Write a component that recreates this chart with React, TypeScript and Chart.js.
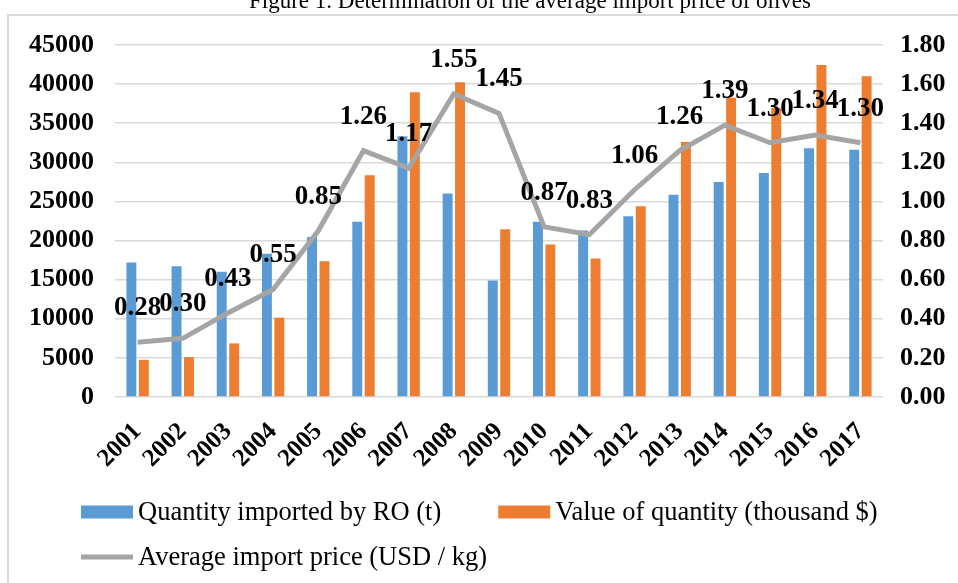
import React, { useEffect, useRef } from 'react';
import { Chart, registerables } from 'chart.js';

Chart.register(...registerables);

const years = ['2001', '2002', '2003', '2004', '2005', '2006', '2007', '2008', '2009', '2010', '2011', '2012', '2013', '2014', '2015', '2016', '2017'];
const quantity = [17200, 16700, 16000, 18300, 20450, 22400, 33350, 26000, 14900, 22400, 21300, 23100, 25850, 27500, 28650, 31800, 31600];
const valueThousand = [4750, 5100, 6850, 10150, 17350, 28350, 38950, 40250, 21450, 19500, 17700, 24400, 32600, 38250, 36950, 42450, 41000];
const avgPrice = [0.28, 0.3, 0.43, 0.55, 0.85, 1.26, 1.17, 1.55, 1.45, 0.87, 0.83, 1.06, 1.26, 1.39, 1.3, 1.34, 1.3];

const seriesLabels = ['Quantity imported by RO (t)', 'Value of quantity (thousand $)', 'Average import price (USD / kg)'];
const titleText = 'Figure 1. Determination of the average import price of olives';

const SERIF = "'Liberation Serif', 'Times New Roman', serif";
const BLUE = '#5b9bd5';
const ORANGE = '#ed7d31';
const GRAY = '#a5a5a5';
const GRID = '#d9d9d9';

const framePlugin = {
  id: 'framePlugin',
  beforeDraw(chart: any) {
    const ctx = chart.ctx;
    ctx.save();
    ctx.fillStyle = '#ffffff';
    ctx.fillRect(0, 0, chart.width, chart.height);
    ctx.strokeStyle = GRID;
    ctx.lineWidth = 2;
    ctx.strokeRect(8, 15, chart.width + 20, chart.height + 20);
    ctx.fillStyle = '#000';
    ctx.font = `23px ${SERIF}`;
    ctx.textAlign = 'center';
    ctx.textBaseline = 'alphabetic';
    ctx.fillText(titleText, 530, 8);
    ctx.restore();
  },
};

const pointLabelPlugin = {
  id: 'pointLabelPlugin',
  afterDatasetsDraw(chart: any) {
    const ctx = chart.ctx;
    const meta = chart.getDatasetMeta(2);
    ctx.save();
    ctx.fillStyle = '#000';
    ctx.font = `bold 27px ${SERIF}`;
    ctx.textAlign = 'center';
    ctx.textBaseline = 'middle';
    meta.data.forEach((pt: any, i: number) => {
      ctx.fillText(avgPrice[i].toFixed(2), pt.x, pt.y - 34);
    });
    ctx.restore();
  },
};

const legendPlugin = {
  id: 'customLegend',
  afterDraw(chart: any) {
    const ctx = chart.ctx;
    const ds = chart.data.datasets;
    ctx.save();
    ctx.font = `26.5px ${SERIF}`;
    ctx.textBaseline = 'middle';
    ctx.textAlign = 'left';
    const rows = [[0, 1], [2]];
    const rowY = [512, 557];
    rows.forEach((row, r) => {
      let x = 81;
      const y = rowY[r];
      row.forEach((idx) => {
        const d = ds[idx];
        if (d.type === 'line') {
          ctx.strokeStyle = d.borderColor;
          ctx.lineWidth = 5;
          ctx.beginPath();
          ctx.moveTo(x, y);
          ctx.lineTo(x + 52, y);
          ctx.stroke();
        } else {
          ctx.fillStyle = d.backgroundColor;
          ctx.fillRect(x, y - 6.5, 52, 13);
        }
        ctx.fillStyle = '#000';
        ctx.fillText(d.label, x + 57, y + 1);
        x += 57 + ctx.measureText(d.label).width + 57;
      });
    });
    ctx.restore();
  },
};

export default function App() {
  const ref = useRef<HTMLCanvasElement>(null);
  useEffect(() => {
    if (!ref.current) return;
    const tickFont = { family: SERIF, size: 26, weight: 'bold' as const };
    const chart = new Chart(ref.current, {
      type: 'bar',
      data: {
        labels: years,
        datasets: [
          {
            type: 'bar',
            label: seriesLabels[0],
            data: quantity,
            backgroundColor: BLUE,
            yAxisID: 'y',
            order: 1,
            categoryPercentage: 0.55,
            barPercentage: 0.8,
          },
          {
            type: 'bar',
            label: seriesLabels[1],
            data: valueThousand,
            backgroundColor: ORANGE,
            yAxisID: 'y',
            order: 1,
            categoryPercentage: 0.55,
            barPercentage: 0.8,
          },
          {
            type: 'line',
            label: seriesLabels[2],
            data: avgPrice,
            borderColor: GRAY,
            backgroundColor: GRAY,
            borderWidth: 5,
            pointRadius: 0,
            tension: 0,
            yAxisID: 'y1',
            order: 0,
          } as any,
        ],
      },
      options: {
        responsive: false,
        animation: false,
        devicePixelRatio: 1,
        layout: { padding: { left: 28, right: 8, top: 45, bottom: 116 } },
        plugins: {
          legend: { display: false },
          tooltip: { enabled: false },
          title: { display: false },
        },
        scales: {
          x: {
            grid: { display: false },
            border: { display: false },
            ticks: {
              autoSkip: false,
              minRotation: 45,
              maxRotation: 45,
              font: { family: SERIF, size: 25, weight: 'bold' },
              color: '#000',
              padding: 12,
            },
            afterFit: (s: any) => {
              s.height = 70;
            },
          },
          y: {
            position: 'left',
            min: 0,
            max: 45000,
            ticks: {
              stepSize: 5000,
              callback: (v: any) => String(v),
              font: tickFont,
              color: '#000',
              padding: 21,
            },
            grid: { color: GRID, lineWidth: 1.5, drawTicks: false },
            border: { display: false },
            afterFit: (s: any) => {
              s.width = 87;
            },
          },
          y1: {
            position: 'right',
            min: 0,
            max: 1.8,
            ticks: {
              stepSize: 0.2,
              callback: (v: any) => Number(v).toFixed(2),
              font: tickFont,
              color: '#000',
              padding: 17,
            },
            grid: { drawOnChartArea: false, drawTicks: false },
            border: { display: false },
            afterFit: (s: any) => {
              s.width = 67;
            },
          },
        },
      } as any,
      plugins: [framePlugin, pointLabelPlugin, legendPlugin],
    });
    return () => chart.destroy();
  }, []);
  return (
    <div style={{ position: 'absolute', left: 0, top: 0, width: 958, height: 583, background: '#fff' }}>
      <canvas ref={ref} width={958} height={583} style={{ display: 'block' }} />
    </div>
  );
}
